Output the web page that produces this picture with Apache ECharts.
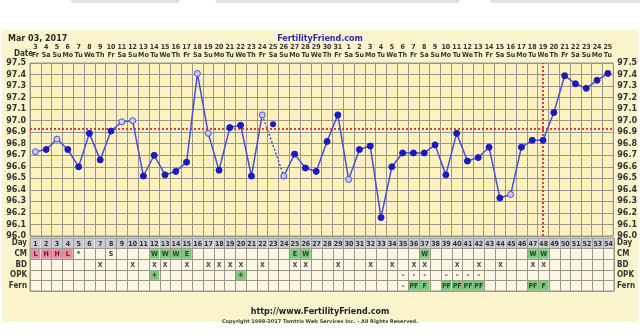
<!DOCTYPE html>
<html><head><meta charset="utf-8">
<script src="https://cdn.jsdelivr.net/npm/echarts@6/dist/echarts.min.js"></script>
<style>html,body{margin:0;padding:0;background:#fff}#c{width:640px;height:334px}</style>
</head><body><div id="c"></div>
<script>
// ---- data ----
const cycleDays = ['1','2','3','4','5','6','7','8','9','10','11','12','13','14','15','16','17','18','19','20','21','22','23','24','25','26','27','28','29','30','31','32','33','34','35','36','37','38','39','40','41','42','43','44','45','46','47','48','49','50','51','52','53','54'];
const dates = ['3','4','5','6','7','8','9','10','11','12','13','14','15','16','17','18','19','20','21','22','23','24','25','26','27','28','29','30','31','1','2','3','4','5','6','7','8','9','10','11','12','13','14','15','16','17','18','19','20','21','22','23','24','25'];
const weekdays = ['Fr','Sa','Su','Mo','Tu','We','Th','Fr','Sa','Su','Mo','Tu','We','Th','Fr','Sa','Su','Mo','Tu','We','Th','Fr','Sa','Su','Mo','Tu','We','Th','Fr','Sa','Su','Mo','Tu','We','Th','Fr','Sa','Su','Mo','Tu','We','Th','Fr','Sa','Su','Mo','Tu','We','Th','Fr','Sa','Su','Mo','Tu'];
const temps = [96.73,96.75,96.84,96.75,96.60,96.89,96.66,96.91,96.99,97.00,
               96.52,96.70,96.53,96.56,96.64,97.41,96.89,96.57,96.94,96.96,
               96.52,97.05,96.97,96.52,96.71,96.59,96.56,96.82,97.05,96.49,
               96.75,96.78,96.16,96.60,96.72,96.72,96.72,96.79,96.53,96.89,
               96.65,96.68,96.77,96.33,96.36,96.77,96.83,96.83,97.07,97.39,
               97.32,97.28,97.35,97.41];
const openDays = [1,3,9,10,16,17,22,24,30,45];
const separateDay = 23;          // temp shown but not connected
const dashedFrom = 22, dashedTo = 24;
const coverline = 96.93;
const ovulationDay = '48';
const rowNames = ['Day','CM','BD','OPK','Fern'];
const cm   = ['L','H','H','L','*','','','S','','','','W','W','W','E','','','','','','','','','','E','W','','','','','','','','','','','W','','','','','','','','','','W','W','','','','','',''];
const bd   = ['','','','','','','X','','','X','','X','X','','X','','X','X','X','X','','X','','','X','X','','','X','','','X','','X','','X','X','','','X','','X','','X','','','X','X','','','','','',''];
const opk  = ['','','','','','','','','','','','+','','','','','','','','+','','','','','','','','','','','','','','','-','-','-','','-','-','-','-','','','','','','','','','','','',''];
const fern = ['','','','','','','','','','','','','','','','','','','','','','','','','','','','','','','','','','','-','PF','F','','PF','PF','PF','PF','','','','','PF','F','','','','','',''];

// ---- build ----
const FONT = '"DejaVu Sans", sans-serif';
const CFONT = '"DejaVu Sans Condensed", "DejaVu Sans", sans-serif';
const GRID_C = '#9a978a';
const mainData = temps.map((v, i) => {
  if (i + 1 === separateDay) return null;
  const o = { value: v };
  if (openDays.indexOf(i + 1) >= 0) o.itemStyle = { color: '#cacaf4', borderColor: '#4c4cd4', borderWidth: 1 };
  return o;
});
const dashData = temps.map((v, i) => (i + 1 === dashedFrom || i + 1 === dashedTo) ? v : null);
const sepData = temps.map((v, i) => (i + 1 === separateDay) ? v : null);

const PINK = '#e98ea2', GREEN = '#7fc67f', GRAY = '#c9c9d4';
const cells = [];
cycleDays.forEach((d, i) => cells.push({ x: i, y: 0, text: d, fill: GRAY, color: '#333' }));
cm.forEach((t, i) => { if (!t) return;
  let fill = null, color = '#333';
  if ('LHM'.indexOf(t) >= 0) { fill = PINK; color = '#7a1030'; }
  else if ('WE'.indexOf(t) >= 0) { fill = GREEN; color = '#1e4e1e'; }
  cells.push({ x: i, y: 1, text: t, fill, color }); });
bd.forEach((t, i) => { if (t) cells.push({ x: i, y: 2, text: t, fill: null, color: '#444' }); });
opk.forEach((t, i) => { if (t) cells.push({ x: i, y: 3, text: t === '-' ? '–' : t, fill: t === '+' ? GREEN : null, color: '#1e2e1e' }); });
fern.forEach((t, i) => { if (t) cells.push({ x: i, y: 4, text: t === '-' ? '–' : t, fill: t === '-' ? null : GREEN, color: '#1e4e1e' }); });

const labelStyle = { fontFamily: FONT, fontSize: 8, fontWeight: 'bold', color: '#333' };

const chart = echarts.init(document.getElementById('c'), null, { renderer: 'canvas' });
chart.setOption({
  backgroundColor: '#ffffff',
  animation: false,
  graphic: [
    { type: 'rect', shape: { x: 2, y: 30, width: 636, height: 292 }, style: { fill: '#fbf4cc' }, z: -10 },
    { type: 'rect', shape: { x: 70, y: -8, width: 110, height: 11, r: 4 }, style: { fill: '#e2e2e2' }, z: -10 },
    { type: 'rect', shape: { x: 215, y: -8, width: 245, height: 11, r: 4 }, style: { fill: '#e2e2e2' }, z: -10 },
    { type: 'rect', shape: { x: 490, y: -8, width: 152, height: 11, r: 4 }, style: { fill: '#e2e2e2' }, z: -10 }
  ],
  title: [
    { text: 'Mar 03, 2017', left: 3, top: 30, textStyle: { fontFamily: FONT, fontSize: 8, fontWeight: 'bold', color: '#2a2a2a' } },
    { text: 'FertilityFriend.com', left: 'center', top: 30, textStyle: { fontFamily: FONT, fontSize: 8, fontWeight: 'bold', color: '#2b2bb0' } },
    { text: 'Date', left: 9, top: 45, textStyle: { fontFamily: CFONT, fontSize: 8, fontWeight: 'bold', color: '#333' } },
    { text: 'http://www.FertilityFriend.com', left: 'center', top: 303, textStyle: { fontFamily: FONT, fontSize: 8, fontWeight: 'bold', color: '#222' } },
    { text: 'Copyright 1998-2017 Tamtris Web Services Inc. - All Rights Reserved.', left: 'center', top: 314, textStyle: { fontFamily: FONT, fontSize: 5, color: '#444' } }
  ],
  grid: [
    { left: 30, right: 26, top: 63, height: 173, show: true, backgroundColor: '#fcf1bf', borderColor: GRID_C, borderWidth: 1 },
    { left: 30, right: 26, top: 238, height: 53, show: true, backgroundColor: '#fdf8e6', borderColor: GRID_C, borderWidth: 1 }
  ],
  xAxis: [
    { type: 'category', gridIndex: 0, position: 'top', data: cycleDays, boundaryGap: true,
      axisLine: { show: false }, axisTick: { show: false },
      axisLabel: { interval: 0, margin: 4, lineHeight: 8, fontFamily: CFONT, fontSize: 7, fontWeight: 'bold', color: '#333',
        formatter: (v, i) => dates[i] + '\n' + weekdays[i] },
      splitLine: { show: true, interval: 0, lineStyle: { color: GRID_C, width: 1 } } },
    { type: 'category', gridIndex: 1, data: cycleDays, boundaryGap: true,
      axisLine: { show: false }, axisTick: { show: false }, axisLabel: { show: false },
      splitLine: { show: true, interval: 0, lineStyle: { color: GRID_C, width: 1 } } }
  ],
  yAxis: [
    { type: 'value', gridIndex: 0, min: 96.0, max: 97.5, interval: 0.1, position: 'left',
      axisLine: { show: false }, axisTick: { show: false },
      axisLabel: Object.assign({ margin: 4, formatter: v => v.toFixed(1) }, labelStyle),
      splitLine: { show: true, lineStyle: { color: GRID_C, width: 1 } } },
    { type: 'value', gridIndex: 0, min: 96.0, max: 97.5, interval: 0.1, position: 'right',
      axisLine: { show: false }, axisTick: { show: false },
      axisLabel: Object.assign({ margin: 4, formatter: v => v.toFixed(1) }, labelStyle),
      splitLine: { show: false } },
    { type: 'category', gridIndex: 1, data: rowNames, inverse: true, position: 'left',
      axisLine: { show: false }, axisTick: { show: false },
      axisLabel: { interval: 0, margin: 3, fontFamily: CFONT, fontSize: 8, fontWeight: 'bold', color: '#333' },
      splitLine: { show: true, interval: 0, lineStyle: { color: GRID_C, width: 1 } } },
    { type: 'category', gridIndex: 1, data: rowNames, inverse: true, position: 'right',
      axisLine: { show: false }, axisTick: { show: false },
      axisLabel: { interval: 0, margin: 3, fontFamily: CFONT, fontSize: 8, fontWeight: 'bold', color: '#333' },
      splitLine: { show: false } }
  ],
  series: [
    { type: 'line', xAxisIndex: 0, yAxisIndex: 0, data: mainData, connectNulls: false,
      symbol: 'circle', symbolSize: 6, z: 5,
      lineStyle: { color: '#4c4cd8', width: 1.5 },
      itemStyle: { color: '#1a1ac0', borderColor: '#1a1ac0', borderWidth: 1 },
      markLine: { silent: true, symbol: 'none', label: { show: false },
        lineStyle: { color: '#e23a3a', width: 2, type: [2, 2] },
        data: [ { yAxis: coverline }, { xAxis: ovulationDay } ] } },
    { type: 'line', xAxisIndex: 0, yAxisIndex: 0, data: dashData, connectNulls: true,
      symbol: 'none', z: 4, lineStyle: { color: '#4c4cd8', width: 1.5, type: [2, 2] } },
    { type: 'line', xAxisIndex: 0, yAxisIndex: 0, data: sepData, symbol: 'circle', symbolSize: 6, z: 5,
      lineStyle: { width: 0 }, itemStyle: { color: '#1a1ac0' } },
    { type: 'custom', xAxisIndex: 1, yAxisIndex: 2, clip: false,
      data: cells.map(c => [c.x, c.y]),
      renderItem: function (params, api) {
        const cell = cells[params.dataIndex];
        const p = api.coord([api.value(0), api.value(1)]);
        const s = api.size([1, 1]);
        const children = [];
        if (cell.fill) children.push({ type: 'rect',
          shape: { x: p[0] - s[0] / 2 + 0.5, y: p[1] - s[1] / 2 + 0.5, width: s[0] - 1, height: s[1] - 1 },
          style: { fill: cell.fill } });
        children.push({ type: 'text', style: { text: cell.text, x: p[0], y: p[1] + 0.5,
          align: 'center', verticalAlign: 'middle', textAlign: 'center', textVerticalAlign: 'middle',
          font: 'bold 7px ' + CFONT, fill: cell.color } });
        return { type: 'group', children: children };
      } }
  ]
});
</script>
</body></html>
